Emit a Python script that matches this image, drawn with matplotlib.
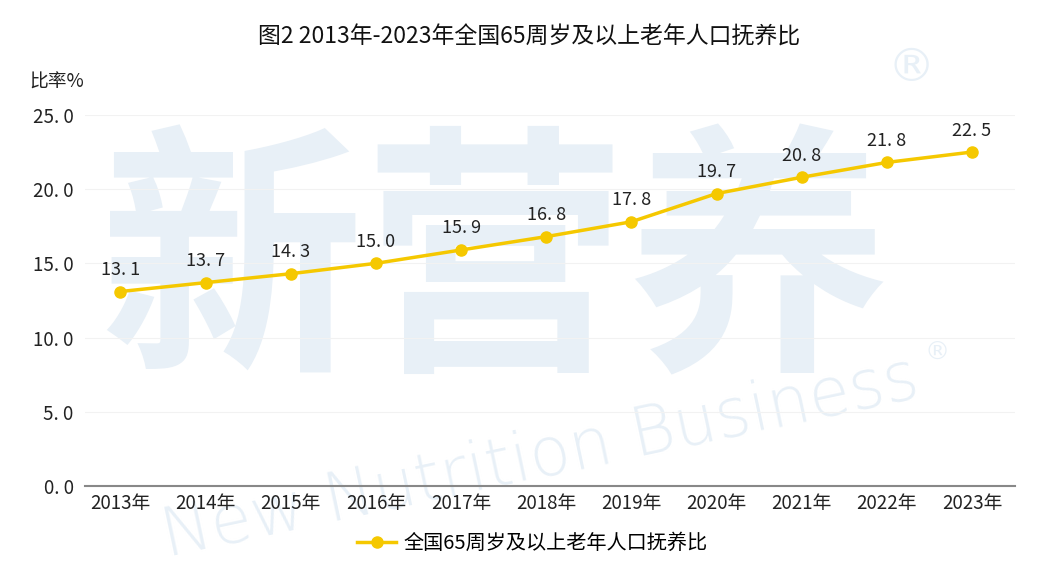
import matplotlib
matplotlib.use("Agg")
import matplotlib.pyplot as plt

plt.rcParams['font.family'] = ['Noto Sans CJK SC', 'DejaVu Sans']

years = ["2013年", "2014年", "2015年", "2016年", "2017年", "2018年",
         "2019年", "2020年", "2021年", "2022年", "2023年"]
ratio = [13.1, 13.7, 14.3, 15.0, 15.9, 16.8, 17.8, 19.7, 20.8, 21.8, 22.5]
series_name = "全国65周岁及以上老年人口抚养比"
yticks = [0, 5, 10, 15, 20, 25]

fig = plt.figure(figsize=(10.59, 5.69), dpi=100)
ax = fig.add_axes([0.080, 0.146, 0.878, 0.652], zorder=1)
ax.set_facecolor("none")

# faint watermark behind the axes
wm = "#E8F0F7"
fig.text(0.467, 0.52, "新营养", fontsize=190, color=wm, ha="center", va="center",
         fontweight="bold", zorder=-1)
fig.text(0.51, 0.195, "New Nutrition Business", fontsize=48, color=wm, ha="center",
         va="center", rotation=12, zorder=-1, family="DejaVu Sans", fontweight="light")
fig.text(0.86, 0.88, "®", fontsize=34, color=wm, ha="center", va="center", zorder=-1,
         family="DejaVu Sans")
fig.text(0.885, 0.38, "®", fontsize=18, color=wm, ha="center", va="center", zorder=-1,
         family="DejaVu Sans")

x = list(range(len(years)))
ax.plot(x, ratio, color="#F5C800", linewidth=2.5, marker="o", markersize=8,
        label=series_name, zorder=3)
for xi, v in zip(x, ratio):
    ax.annotate(f"{v:.1f}".replace(".", ". "), (xi, v), textcoords="offset points",
                xytext=(0, 9), ha="center", va="bottom", fontsize=13, color="#222222")

ax.set_xlim(-0.42, 10.5)
ax.set_ylim(0, 25)
ax.set_yticks(yticks)
ax.set_yticklabels([f"{t:.1f}".replace(".", ". ") for t in yticks])
ax.set_xticks(x)
ax.set_xticklabels(years)
ax.tick_params(axis="both", length=0, labelsize=13.5, colors="#222222")
ax.tick_params(axis="x", pad=5)
ax.tick_params(axis="y", pad=8)
ax.grid(axis="y", color="#F2F2F2", linewidth=0.8)
ax.set_axisbelow(True)
for s in ["top", "right", "left"]:
    ax.spines[s].set_visible(False)
ax.spines["bottom"].set_color("#888888")
ax.spines["bottom"].set_linewidth(1.5)

fig.text(0.5, 0.935, "图2 2013年-2023年全国65周岁及以上老年人口抚养比", ha="center",
         va="center", fontsize=16.5, color="#111111", fontweight="medium")
fig.text(0.028, 0.855, "比率%", ha="left", va="center", fontsize=13.5, color="#222222")

fig.legend(loc="center", bbox_to_anchor=(0.503, 0.045), frameon=False, fontsize=14.5,
           handlelength=1.9, handletextpad=0.4)

fig.savefig("out.png", dpi=100)
